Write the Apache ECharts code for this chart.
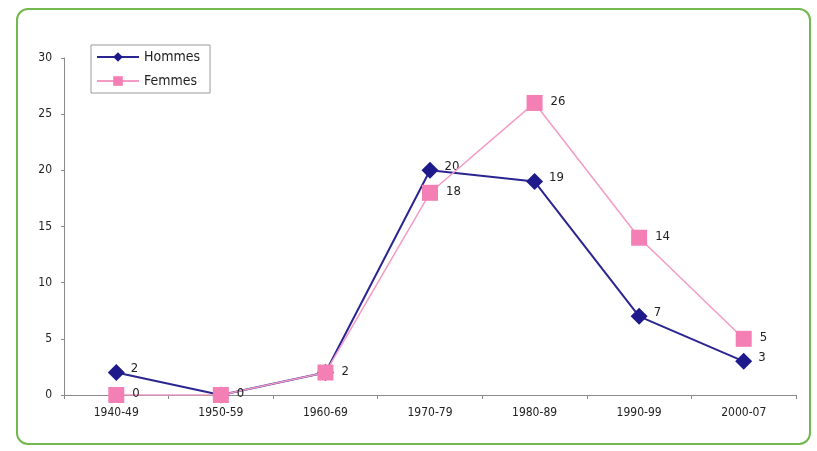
<!DOCTYPE html>
<html><head><meta charset="utf-8">
<script src="https://cdn.jsdelivr.net/npm/echarts@6/dist/echarts.min.js"></script>
<style>
html,body{margin:0;padding:0;background:#fff;}
#frame{position:absolute;left:16px;top:8px;width:795px;height:437px;border:2px solid #72b84e;border-radius:12px;box-sizing:border-box;}
#c{position:absolute;left:0;top:0;width:817px;height:451px;}
</style></head>
<body>
<div id="frame"></div>
<div id="c"></div>
<script>
var categories = ['1940-49','1950-59','1960-69','1970-79','1980-89','1990-99','2000-07'];
var hommes = [2, 0, 2, 20, 19, 7, 3];
var femmes = [0, 0, 2, 18, 26, 14, 5];
var yTicks = [0, 5, 10, 15, 20, 25, 30];

var font = '"DejaVu Sans Condensed", "Liberation Sans Narrow", sans-serif';
var hommesData = hommes.map(function(v, i){
  return v === femmes[i] ? {value: v, label: {show: false}} : v;
});
var chart = echarts.init(document.getElementById('c'));
chart.setOption({
  backgroundColor: 'transparent',
  animation: false,
  grid: {left: 64, right: 21, top: 58, bottom: 56},
  legend: {
    left: 91, top: 45, orient: 'vertical',
    itemWidth: 42, itemHeight: 12, itemGap: 10,
    padding: [5, 10, 5, 5],
    borderColor: '#9a9a9a', borderWidth: 1,
    textStyle: {fontFamily: font, fontSize: 14, color: '#222'},
    data: ['Hommes', 'Femmes']
  },
  xAxis: {
    type: 'category', data: categories, boundaryGap: true,
    axisLine: {lineStyle: {color: '#8a8a8a', width: 1}},
    axisTick: {show: true, length: 4, lineStyle: {color: '#8a8a8a'}},
    axisLabel: {fontFamily: font, fontSize: 12, color: '#222', margin: 12}
  },
  yAxis: {
    type: 'value', min: 0, max: 30, interval: 5,
    axisLine: {show: true, lineStyle: {color: '#8a8a8a', width: 1}},
    axisTick: {show: true, length: 3, lineStyle: {color: '#8a8a8a'}},
    splitLine: {show: false},
    axisLabel: {fontFamily: font, fontSize: 12, color: '#222', margin: 12,
      formatter: function(v){ return yTicks.indexOf(v) >= 0 ? String(v) : ''; }}
  },
  series: [
    {
      name: 'Hommes', type: 'line', data: hommesData,
      symbol: 'diamond', symbolSize: 17,
      lineStyle: {color: '#2a2590', width: 2},
      itemStyle: {color: '#1e1a8c'},
      label: {show: true, position: 'right', distance: 6, fontFamily: font, fontSize: 13, color: '#222', offset: [0, -4]},
      z: 2
    },
    {
      name: 'Femmes', type: 'line', data: femmes,
      symbol: 'rect', symbolSize: 16,
      lineStyle: {color: '#f49ac6', width: 1.5},
      itemStyle: {color: '#f47fb5'},
      label: {show: true, position: 'right', distance: 8, fontFamily: font, fontSize: 13, color: '#222', offset: [0, -1]},
      z: 3
    }
  ]
});
</script>
</body></html>
